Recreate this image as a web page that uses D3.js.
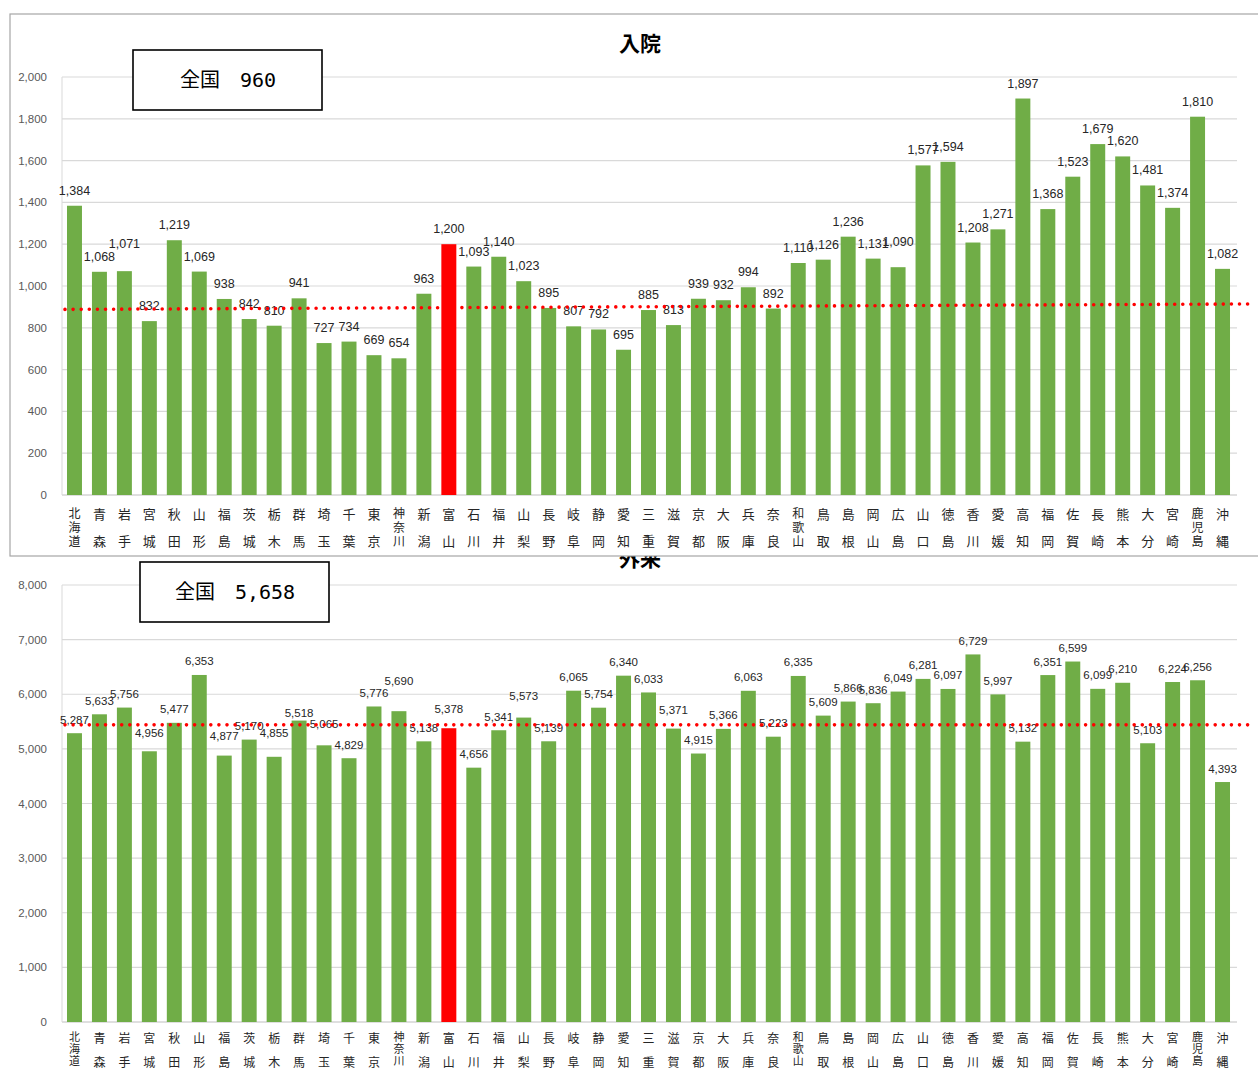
<!DOCTYPE html>
<html>
<head>
<meta charset="utf-8">
<script src="https://cdn.jsdelivr.net/npm/d3@7"></script>
<style>
  body { margin: 0; background: #fff; }
  text { font-family: 'Liberation Sans', Arial, sans-serif; }
</style>
</head>
<body>
<div id="area"></div>
<script>
// 都道府県
const prefs = ['北海道','青森','岩手','宮城','秋田','山形','福島','茨城','栃木','群馬',
  '埼玉','千葉','東京','神奈川','新潟','富山','石川','福井','山梨','長野',
  '岐阜','静岡','愛知','三重','滋賀','京都','大阪','兵庫','奈良','和歌山',
  '鳥取','島根','岡山','広島','山口','徳島','香川','愛媛','高知','福岡',
  '佐賀','長崎','熊本','大分','宮崎','鹿児島','沖縄']

// 入院
const inpatient = [1384,1068,1071,832,1219,1069,938,842,810,941,
  727,734,669,654,963,1200,1093,1140,1023,895,
  807,792,695,885,813,939,932,994,892,1110,
  1126,1236,1131,1090,1577,1594,1208,1271,1897,1368,
  1523,1679,1620,1481,1374,1810,1082]

// 外来
const outpatient = [5287,5633,5756,4956,5477,6353,4877,5170,4855,5518,
  5065,4829,5776,5690,5138,5378,4656,5341,5573,5139,
  6065,5754,6340,6033,5371,4915,5366,6063,5223,6335,
  5609,5866,5836,6049,6281,6097,6729,5997,5132,6351,
  6599,6099,6210,5103,6224,6256,4393]

const highlight = '富山'
const inpatientTicks = d3.range(0, 2001, 200)
const outpatientTicks = d3.range(0, 8001, 1000)
// dotted red line, value at left and right end
const inpatientRef = [888, 914]
const outpatientRef = [5440, 5440]

// labels that were pushed up/down to avoid collisions (px)
const inpatientNudge = { '岩手': -12, '広島': -10 }
const outpatientNudge = { '宮城': -5, '福島': -6, '栃木': -10, '群馬': 6, '埼玉': -8,
  '神奈川': -17, '富山': -6, '山梨': -8, '滋賀': -5 }

const svg = d3.select('#area')
  .append('svg')
  .attr('width', 1258)
  .attr('height', 1068)

const fmt = d3.format(',')
const green = '#70ad47'

function drawPanel(g, o) {
  const x = d3.scaleBand()
    .domain(prefs)
    .range([62, 1235])
    .paddingInner(0.4)
    .paddingOuter(0.2)
  const y = d3.scaleLinear()
    .domain([0, o.ticks[o.ticks.length - 1]])
    .range([o.bottom, o.top])

  // title
  g.append('text')
    .attr('x', 640)
    .attr('y', o.titleY)
    .attr('text-anchor', 'middle')
    .attr('dominant-baseline', 'central')
    .style('font-family', "'Noto Sans CJK JP', sans-serif")
    .style('font-weight', 'bold')
    .style('font-size', '21px')
    .attr('fill', '#000')
    .text(o.title)

  // gridlines + y labels
  g.selectAll('.grid')
    .data(o.ticks)
    .enter()
    .append('line')
    .attr('x1', 62)
    .attr('x2', 1237)
    .attr('y1', d => y(d))
    .attr('y2', d => y(d))
    .attr('stroke', d => d === 0 ? '#bfbfbf' : '#d9d9d9')
    .attr('stroke-width', 1.2)

  g.append('line')
    .attr('x1', 62).attr('x2', 62)
    .attr('y1', y.range()[1]).attr('y2', y.range()[0])
    .attr('stroke', '#d9d9d9')

  g.selectAll('.ylab')
    .data(o.ticks)
    .enter()
    .append('text')
    .attr('x', 47)
    .attr('y', d => y(d))
    .attr('text-anchor', 'end')
    .attr('dominant-baseline', 'central')
    .style('font-size', '11.5px')
    .attr('fill', '#595959')
    .text(d => fmt(d))

  // bars
  g.selectAll('.bar')
    .data(o.values)
    .enter()
    .append('rect')
    .attr('x', (d, i) => x(prefs[i]))
    .attr('y', d => y(d))
    .attr('width', x.bandwidth())
    .attr('height', d => y(0) - y(d))
    .attr('fill', (d, i) => prefs[i] === highlight ? '#ff0000' : green)

  // value labels
  g.selectAll('.val')
    .data(o.values)
    .enter()
    .append('text')
    .attr('x', (d, i) => x(prefs[i]) + x.bandwidth() / 2)
    .attr('y', (d, i) => y(d) - o.valGap + (o.nudge[prefs[i]] || 0))
    .attr('text-anchor', 'middle')
    .style('font-family', o.valFont)
    .style('font-size', o.valSize)
    .attr('fill', '#262626')
    .text(d => fmt(d))

  // category labels: 3-char names as vertical text, 2-char names on first and last row
  const catFont = "'Noto Sans CJK JP', sans-serif"
  g.selectAll('.cat3')
    .data(prefs.filter(p => p.length === 3))
    .enter()
    .append('text')
    .attr('x', p => x(p) + x.bandwidth() / 2)
    .attr('y', o.rows[0] - o.catSize3 / 2)
    .attr('writing-mode', 'vertical-rl')
    .style('font-family', catFont)
    .style('font-size', o.catSize3 + 'px')
    .style('letter-spacing', o.step3 - o.catSize3 + 'px')
    .attr('fill', '#262626')
    .text(p => p)

  const cats2 = g.selectAll('.cat2')
    .data(prefs.filter(p => p.length !== 3))
    .enter()
    .append('text')
    .attr('text-anchor', 'middle')
    .style('font-family', catFont)
    .style('font-size', o.catSize + 'px')
    .attr('fill', '#262626')

  cats2.each(function (p) {
    d3.select(this).selectAll('tspan')
      .data(p.split(''))
      .enter()
      .append('tspan')
      .attr('x', x(p) + x.bandwidth() / 2)
      .attr('y', (c, k) => o.rows[k])
      .attr('dominant-baseline', 'central')
      .text(c => c)
  })

  // dotted reference line
  g.append('line')
    .attr('x1', x.range()[0] + 3)
    .attr('x2', x.range()[1] + 15)
    .attr('y1', y(o.ref[0]))
    .attr('y2', y(o.ref[1]))
    .attr('stroke', '#ff0000')
    .attr('stroke-width', 3.6)
    .attr('stroke-linecap', 'round')
    .attr('stroke-dasharray', '0 8.1')

  // national average box
  g.append('rect')
    .attr('x', o.box[0])
    .attr('y', o.box[1])
    .attr('width', 189)
    .attr('height', 60)
    .attr('fill', '#fff')
    .attr('stroke', '#000')
    .attr('stroke-width', 1.6)

  g.append('text')
    .attr('x', o.box[0] + 95)
    .attr('y', o.box[1] + 30)
    .attr('text-anchor', 'middle')
    .attr('dominant-baseline', 'central')
    .style('font-family', "'DejaVu Sans Mono', 'Noto Sans CJK JP', monospace")
    .style('font-size', '20px')
    .attr('fill', '#000')
    .text(o.avg)
}

// 外来 first, top panel covers its title
const lower = svg.append('g')
drawPanel(lower, {
  title: '外来', titleY: 557,
  values: outpatient, ticks: outpatientTicks,
  top: 585, bottom: 1022, ref: outpatientRef,
  box: [140, 562], avg: '全国　5,658',
  rows: [1037, 1061], catSize: 12, catSize3: 11, step3: 11.8,
  valFont: "'Liberation Sans', sans-serif", valSize: '11.5px',
  valGap: 9.5, nudge: outpatientNudge
})

const upper = svg.append('g')
upper.append('rect')
  .attr('x', 10)
  .attr('y', 14)
  .attr('width', 1270)
  .attr('height', 542)
  .attr('fill', '#fff')
  .attr('stroke', '#a6a6a6')
  .attr('stroke-width', 1.2)

drawPanel(upper, {
  title: '入院', titleY: 42,
  values: inpatient, ticks: inpatientTicks,
  top: 77, bottom: 495, ref: inpatientRef,
  box: [133, 50], avg: '全国　960',
  rows: [513, 540], catSize: 13, catSize3: 12, step3: 14,
  valFont: "'Liberation Sans Narrow', 'Liberation Sans', sans-serif", valSize: '12.5px',
  valGap: 11, nudge: inpatientNudge
})
</script>
</body>
</html>
